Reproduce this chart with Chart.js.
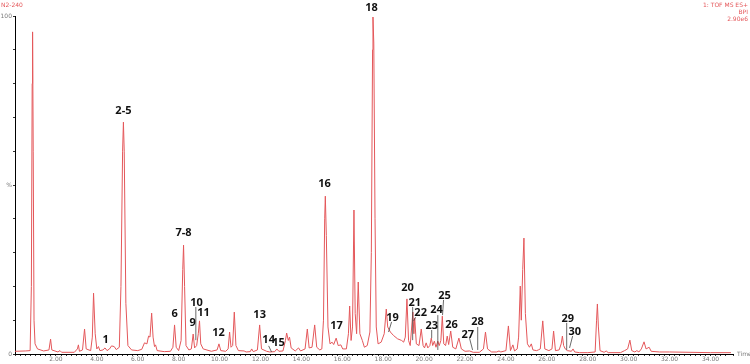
<!DOCTYPE html>
<html>
<head>
<meta charset="utf-8">
<script src="https://cdn.jsdelivr.net/npm/chart.js@4"></script>
<style>
  html, body { margin: 0; padding: 0; background: #fff; }
  #wrap { width: 750px; height: 364px; position: relative; }
</style>
</head>
<body>
<div id="wrap"><canvas id="bpiChart"></canvas></div>
<script>
// retention time (min) and base peak intensity (%)
const retentionTime = [
  0.00, 0.50, 0.74, 0.80, 0.84, 0.86, 0.89, 0.93, 0.98, 1.10,
  1.40, 1.66, 1.74, 1.80, 2.10, 2.20, 2.28, 2.90, 3.05, 3.10,
  3.15, 3.30, 3.40, 3.48, 3.70, 3.78, 3.84, 3.92, 4.00, 4.08,
  4.15, 4.30, 4.40, 4.50, 4.62, 4.72, 4.85, 4.95, 5.10, 5.18,
  5.26, 5.30, 5.34, 5.42, 5.52, 5.70, 6.00, 6.20, 6.33, 6.45,
  6.53, 6.60, 6.68, 6.75, 6.82, 6.87, 6.95, 7.30, 7.60, 7.72,
  7.80, 7.88, 8.00, 8.12, 8.20, 8.24, 8.29, 8.36, 8.50, 8.62,
  8.71, 8.78, 8.88, 8.96, 9.02, 9.08, 9.20, 9.60, 9.88, 9.97,
  10.06, 10.30, 10.42, 10.49, 10.56, 10.64, 10.72, 10.80, 10.92, 11.20,
  11.30, 11.50, 11.57, 11.65, 11.85, 11.96, 12.05, 12.30, 12.45, 12.70,
  12.80, 12.90, 13.10, 13.22, 13.28, 13.36, 13.42, 13.50, 13.70, 13.86,
  13.96, 14.18, 14.29, 14.38, 14.52, 14.65, 14.75, 14.90, 15.00, 15.08,
  15.14, 15.17, 15.22, 15.30, 15.40, 15.50, 15.58, 15.70, 15.80, 15.93,
  16.02, 16.20, 16.30, 16.36, 16.43, 16.50, 16.57, 16.63, 16.70, 16.78,
  16.86, 16.98, 17.08, 17.22, 17.35, 17.42, 17.48, 17.50, 17.54, 17.60,
  17.66, 17.75, 17.90, 18.05, 18.15, 18.22, 18.35, 18.50, 18.70, 18.90,
  19.00, 19.08, 19.16, 19.24, 19.32, 19.45, 19.50, 19.54, 19.62, 19.75,
  19.86, 19.95, 20.02, 20.10, 20.18, 20.28, 20.35, 20.42, 20.50, 20.58,
  20.67, 20.74, 20.82, 20.89, 20.96, 21.05, 21.13, 21.20, 21.30, 21.40,
  21.55, 21.70, 21.82, 22.00, 22.22, 22.40, 22.70, 22.90, 23.00, 23.10,
  23.30, 23.55, 23.66, 23.75, 24.00, 24.12, 24.22, 24.34, 24.42, 24.55,
  24.62, 24.70, 24.75, 24.82, 24.88, 24.95, 25.05, 25.15, 25.24, 25.32,
  25.50, 25.58, 25.68, 25.80, 25.90, 26.10, 26.25, 26.33, 26.42, 26.60,
  26.70, 26.76, 26.82, 26.90, 27.00, 27.20, 27.28, 27.36, 27.60, 28.00,
  28.36, 28.43, 28.47, 28.52, 28.60, 28.80, 28.90, 29.00, 29.60, 29.80,
  29.95, 30.06, 30.15, 30.30, 30.40, 30.50, 30.62, 30.75, 30.85, 31.00,
  31.10, 31.50, 32.00, 33.00, 34.00, 35.00
];
const intensity = [
  0.8, 0.9, 1.0, 20, 80, 95.3, 60, 10, 3, 1.5,
  0.9, 1.2, 4.4, 1.2, 0.6, 1.0, 0.5, 0.5, 1.5, 2.7,
  0.8, 1.2, 7.4, 1.5, 1.0, 5, 18, 6, 1.5, 2.2,
  1.0, 1.2, 1.8, 1.0, 1.5, 2.4, 2.2, 1.3, 2, 20,
  60, 68.6, 60, 15, 2.5, 1.2, 1.0, 1.4, 3.3, 3.0,
  5.3, 5, 12.1, 5, 2.2, 2.7, 1.0, 0.7, 0.8, 2,
  8.6, 2, 1.0, 4, 25, 32.2, 20, 2.5, 1.2, 1.5,
  5.9, 1.8, 2.5, 6, 9.8, 3, 1.5, 0.8, 1.2, 3.0,
  1.0, 0.8, 1.5, 6.5, 2, 2.5, 12.4, 2.5, 1.0, 0.9,
  0.6, 0.7, 1.5, 0.7, 1.2, 8.6, 1.5, 0.8, 0.6, 0.7,
  1.5, 0.8, 0.9, 4, 6.2, 4, 5, 1.8, 0.9, 1.8,
  0.9, 1.5, 7.4, 1.8, 2, 8.6, 2, 1.2, 1.5, 10,
  40, 46.7, 35, 8, 3.0, 3.5, 2.8, 4.7, 2.5, 2.7,
  1.5, 1.5, 6, 14.2, 4, 8, 42.6, 12, 6, 21.3,
  6, 4, 2, 2.5, 6.5, 30, 90, 99.7, 92, 40,
  8, 3, 3.5, 6, 13.3, 8, 6.5, 5.5, 4.5, 4,
  3.5, 5, 16.3, 4, 2.5, 12.4, 6, 10.6, 3, 2.5,
  7.4, 2.5, 1.8, 3.3, 1.8, 2.5, 4.7, 2.5, 3.8, 2,
  3.8, 2.5, 4, 11.2, 3, 2.5, 5.3, 2.8, 6.8, 2,
  1.5, 4.7, 1.5, 0.8, 0.9, 0.5, 0.5, 1.5, 6.5, 1.5,
  0.6, 0.6, 0.9, 0.6, 1.0, 8.3, 1.0, 2.7, 0.9, 1.5,
  5, 20.1, 10, 25, 34.3, 12, 3, 2, 3, 1.2,
  1.0, 1.2, 1.5, 9.8, 1.5, 1.0, 1.5, 6.8, 1.0, 1.2,
  3, 5.3, 2.5, 1.5, 1.0, 0.8, 1.5, 0.6, 0.4, 0.4,
  0.6, 10, 14.8, 8, 1.0, 0.5, 0.9, 0.4, 0.4, 1.0,
  1.5, 4.1, 1.0, 0.6, 1.0, 0.6, 1.5, 3.6, 1.5, 2.0,
  0.8, 0.6, 0.6, 0.5, 0.4, 0.4
];

// peak annotations: text, time and level (%) of label centre
const peakLabels = ['1', '2-5', '6', '7-8', '9', '10', '11', '12', '13', '14', '15', '16', '17', '18', '19',
  '20', '21', '22', '23', '24', '25', '26', '27', '28', '29', '30'];
const peakLabelTime = [4.43, 5.30, 7.80, 8.24, 8.68, 8.87, 9.22, 9.95, 11.96, 12.40, 12.88, 15.13, 15.72, 17.43, 18.46,
  19.19, 19.54, 19.83, 20.37, 20.61, 21.00, 21.34, 22.13, 22.61, 27.02, 27.36];
const peakLabelLevel = [4.1, 72, 11.8, 35.8, 9.2, 15.1, 12.1, 6.2, 11.5, 4.1, 3.3, 50.3, 8.3, 102.4, 10.7,
  19.5, 15.1, 12.1, 8.3, 13.0, 17.2, 8.6, 5.6, 9.5, 10.4, 6.5];

// leader lines from label to peak
const leaderStartTime = [8.84, 12.40, 18.41, 19.44, 19.58, 20.37, 20.67, 20.95, 22.22, 22.62, 26.97, 27.26];
const leaderStartLevel = [13.9, 2.4, 9.5, 13.9, 10.9, 7.1, 11.5, 16.0, 4.7, 8.0, 9.2, 5.3];
const leaderEndTime = [8.84, 12.54, 18.26, 19.44, 19.49, 20.37, 20.67, 20.90, 22.37, 22.62, 26.97, 27.11];
const leaderEndLevel = [4.1, 0.6, 6.5, 4.1, 9.8, 4.7, 1.2, 11.5, 1.2, 1.2, 1.2, 1.8];

const traceColor = '#e4575a';
const axisText = '#7a7a7a';

const annotations = {
  id: 'annotations',
  afterDatasetsDraw(chart) {
    const ctx = chart.ctx;
    const x = chart.scales.x;
    const y = chart.scales.y;
    ctx.save();

    ctx.strokeStyle = '#444';
    ctx.lineWidth = 0.8;
    for (let i = 0; i < leaderStartTime.length; i++) {
      ctx.beginPath();
      ctx.moveTo(x.getPixelForValue(leaderStartTime[i]), y.getPixelForValue(leaderStartLevel[i]));
      ctx.lineTo(x.getPixelForValue(leaderEndTime[i]), y.getPixelForValue(leaderEndLevel[i]));
      ctx.stroke();
    }

    ctx.fillStyle = '#111';
    ctx.font = 'bold 11px "Open Sans"';
    ctx.textAlign = 'center';
    ctx.textBaseline = 'middle';
    for (let i = 0; i < peakLabels.length; i++) {
      ctx.fillText(peakLabels[i], x.getPixelForValue(peakLabelTime[i]), y.getPixelForValue(peakLabelLevel[i]));
    }

    // instrument header text
    ctx.fillStyle = traceColor;
    ctx.font = '6px "DejaVu Sans"';
    ctx.textAlign = 'left';
    ctx.textBaseline = 'middle';
    ctx.fillText('N2-240', 1, 5);
    ctx.textAlign = 'right';
    ctx.fillText('1: TOF MS ES+', 748, 5);
    ctx.fillText('BPI', 748, 12);
    ctx.fillText('2.90e6', 748, 19);

    ctx.fillStyle = axisText;
    ctx.textAlign = 'left';
    ctx.fillText('Time', 737, y.getPixelForValue(0));
    ctx.restore();
  }
};

new Chart(document.getElementById('bpiChart'), {
  type: 'line',
  data: {
    datasets: [{
      label: 'BPI',
      data: retentionTime.map((t, i) => ({ x: t, y: intensity[i] })),
      borderColor: traceColor,
      borderWidth: 1,
      pointRadius: 0,
      tension: 0,
      fill: false
    }]
  },
  options: {
    responsive: true,
    maintainAspectRatio: false,
    animation: false,
    layout: { padding: { top: 16, right: 17, left: 0, bottom: 0 } },
    plugins: {
      legend: { display: false },
      tooltip: { enabled: false }
    },
    scales: {
      x: {
        type: 'linear',
        min: 0,
        max: 35.1,
        afterFit: (scale) => { scale.height = 10; },
        border: { color: '#000', width: 1 },
        grid: { drawOnChartArea: false, drawTicks: true, tickLength: 2, color: '#333' },
        ticks: {
          stepSize: 0.25,
          autoSkip: false,
          maxRotation: 0,
          padding: 0,
          color: axisText,
          font: { size: 6, family: 'DejaVu Sans' },
          callback: (v) => (v > 0 && Math.abs(v % 2) < 1e-6) ? v.toFixed(2) : ''
        }
      },
      y: {
        min: 0,
        max: 100,
        afterFit: (scale) => { scale.width = 15; },
        border: { color: '#000', width: 1 },
        grid: { drawOnChartArea: false, drawTicks: true, tickLength: 2, color: '#333' },
        ticks: {
          stepSize: 10,
          padding: 1,
          color: axisText,
          font: { size: 6, family: 'DejaVu Sans' },
          callback: (v) => v === 100 ? '100' : v === 50 ? '%' : v === 0 ? '0' : ''
        }
      }
    }
  },
  plugins: [annotations]
});
</script>
</body>
</html>
